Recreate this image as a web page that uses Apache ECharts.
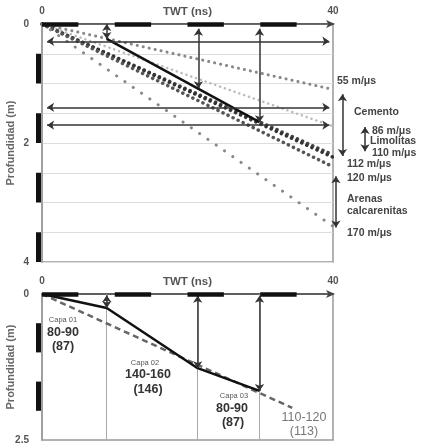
<!DOCTYPE html>
<html>
<head>
<meta charset="utf-8">
<script src="https://cdn.jsdelivr.net/npm/echarts@6/dist/echarts.min.js"></script>
<style>html,body{margin:0;padding:0;background:#fff;}#c{width:422px;height:448px;}</style>
</head>
<body>
<div id="c"></div>
<script>
// ---- data ----
const tMax = 40;
const velocities = [55, 86, 110, 112, 120, 170];          // m/us
const velEndDepth = [1.1, 1.72, 2.2, 2.24, 2.4, 3.4];      // depth (m) reached at 40 ns
const topLayerLine = [[8.9, 0.25], [29.9, 1.65]];
const topHArrowDepths = [0.29, 1.40, 1.70];
const topVArrows = [[8.9, 0.0, 0.25], [21.5, 0.08, 1.08], [29.9, 0.08, 1.65]];
const rightArrows = [[41.3, 1.18, 2.22], [44.4, 1.73, 2.14], [40.4, 2.56, 3.42]];
const bottomLayerLine = [[0, 0], [8.9, 0.24], [21.4, 1.27], [29.9, 1.66]];
const bottomDashed = [[0, 0], [34.4, 1.95]];
const bottomTimes = [8.9, 21.4, 29.9];
const bottomVArrows = [[8.9, 0.02, 0.24], [21.4, 0.03, 1.27], [29.9, 0.03, 1.66]];
const xBarSegs = [[0, 5], [10, 15], [20, 25], [30, 35]];
const yBarSegsTop = [[0.5, 1], [1.5, 2], [2.5, 3], [3.5, 4]];
const yBarSegsBottom = [[0.5, 1], [1.5, 2]];

const velStyles = [
  {color: '#888', width: 3, type: [0.1, 6]},
  {color: '#bbb', width: 2.5, type: [0.1, 5]},
  {color: '#444', width: 3.5, type: [0.1, 5.5]},
  {color: '#333', width: 3.5, type: [0.1, 5.5]},
  {color: '#555', width: 3.5, type: [0.1, 5.5]},
  {color: '#888', width: 3, type: [0.1, 10]}
];

const FONT = '"Liberation Sans", Arial, sans-serif';
const chart = echarts.init(document.getElementById('c'));

function xAxisCfg(gi) {
  return {
    gridIndex: gi, type: 'value', position: 'top', min: 0, max: tMax, interval: 40,
    axisLine: {show: true, symbol: ['none', 'arrow'], symbolSize: [6, 9], symbolOffset: [0, 2],
      lineStyle: {color: '#444', width: 1.5}},
    axisTick: {show: false},
    axisLabel: {fontSize: 10, fontWeight: 'bold', color: '#555', margin: 8, fontFamily: FONT},
    splitLine: {show: false},
    name: 'TWT (ns)', nameLocation: 'middle', nameGap: 6, nameMoveOverlap: false,
    nameTextStyle: {fontSize: 11.5, fontWeight: 'bold', color: '#555', fontFamily: FONT}
  };
}
function yAxisCfg(gi, max, interval, grid) {
  return {
    gridIndex: gi, type: 'value', inverse: true, min: 0, max: max, interval: interval,
    axisLine: {show: true, lineStyle: {color: '#999', width: 1.5}},
    axisTick: {show: false},
    axisLabel: {fontSize: 10, fontWeight: 'bold', color: '#555', margin: 13, fontFamily: FONT},
    splitLine: {show: grid, lineStyle: {color: '#ddd', width: 1}},
    minorTick: {show: false, splitNumber: 4},
    minorSplitLine: {show: grid, lineStyle: {color: '#ddd', width: 1}},
    name: 'Profundidad (m)', nameLocation: 'middle', nameGap: 26, nameRotate: 90, nameMoveOverlap: false,
    nameTextStyle: {fontSize: 11, fontWeight: 'bold', color: '#666', fontFamily: FONT}
  };
}

function linesSeries(gi, coordsList, style, symbol, size, z) {
  return {
    type: 'lines', coordinateSystem: 'cartesian2d', xAxisIndex: gi, yAxisIndex: gi,
    clip: false, silent: true, z: z || 3,
    symbol: symbol || ['none', 'none'], symbolSize: size || 7,
    lineStyle: Object.assign({opacity: 1, curveness: 0}, style),
    data: coordsList.map(c => ({coords: c}))
  };
}

const series = [];
// scale bars on axes
[0, 1].forEach(gi => {
  series.push(linesSeries(gi, xBarSegs.map(s => [[s[0], 0], [s[1], 0]]), {color: '#111', width: 4.5}, null, 0, 6));
});
series.push(linesSeries(0, yBarSegsTop.map(s => [[-0.5, s[0]], [-0.5, s[1]]]), {color: '#111', width: 5}, null, 0, 6));
series.push(linesSeries(1, yBarSegsBottom.map(s => [[-0.5, s[0]], [-0.5, s[1]]]), {color: '#111', width: 5}, null, 0, 6));

// velocity lines (top)
velocities.forEach((v, i) => {
  series.push({
    type: 'line', xAxisIndex: 0, yAxisIndex: 0, name: v + ' m/μs', showSymbol: false, silent: true,
    z: 2, lineStyle: Object.assign({cap: 'round'}, velStyles[i]),
    data: [[0, 0], [tMax, velEndDepth[i]]]
  });
});
// layer line (top)
series.push({type: 'line', xAxisIndex: 0, yAxisIndex: 0, showSymbol: false, silent: true, z: 4,
  lineStyle: {color: '#111', width: 2.5}, data: topLayerLine});
// horizontal arrows (top)
series.push(linesSeries(0, topHArrowDepths.map(d => [[0.7, d], [39.5, d]]), {color: '#333', width: 1.5}, ['arrow', 'arrow'], 7, 5));
// vertical arrows (top)
series.push(linesSeries(0, topVArrows.map(a => [[a[0], a[1]], [a[0], a[2]]]), {color: '#333', width: 1.5}, ['arrow', 'arrow'], 7, 5));
// right-side annotation arrows
series.push(linesSeries(0, rightArrows.map(a => [[a[0], a[1]], [a[0], a[2]]]), {color: '#333', width: 1.5}, ['arrow', 'arrow'], 7, 5));

// bottom chart
series.push(linesSeries(1, bottomTimes.map(t => [[t, 0], [t, 2.5]]), {color: '#aaa', width: 1}, null, 0, 1));
series.push({type: 'line', xAxisIndex: 1, yAxisIndex: 1, showSymbol: false, silent: true, z: 3,
  lineStyle: {color: '#666', width: 2.5, type: [6, 4]}, data: bottomDashed});
series.push({type: 'line', xAxisIndex: 1, yAxisIndex: 1, showSymbol: false, silent: true, z: 4,
  lineStyle: {color: '#111', width: 2.5}, data: bottomLayerLine});
series.push(linesSeries(1, bottomVArrows.map(a => [[a[0], a[1]], [a[0], a[2]]]), {color: '#333', width: 1.5}, ['arrow', 'arrow'], 7, 5));

function txt(x, y, s, size, color, weight, align) {
  return {type: 'text', x: x, y: y, silent: true, z: 10,
    style: {text: s, fontSize: size, fill: color || '#444', fontWeight: weight || 'bold',
      fontFamily: FONT, align: align || 'left', verticalAlign: 'middle'}};
}
const graphics = [
  txt(337, 81, '55 m/μs', 10.5),
  txt(354, 112, 'Cemento', 10.5),
  txt(372, 131, '86 m/μs', 10.5),
  txt(370, 141, 'Limolitas', 10.5),
  txt(372, 153, '110 m/μs', 10.5),
  txt(347, 164, '112 m/μs', 10.5),
  txt(347, 178, '120 m/μs', 10.5),
  txt(347, 199, 'Arenas', 10.5),
  txt(347, 211, 'calcarenitas', 10.5),
  txt(347, 233, '170 m/μs', 10.5),
  txt(63, 320, 'Capa 01', 7.5, '#555', 'normal', 'center'),
  txt(63, 333, '80-90', 12.5, '#333', 'bold', 'center'),
  txt(63, 347, '(87)', 12.5, '#333', 'bold', 'center'),
  txt(145, 363, 'Capa 02', 7.5, '#555', 'normal', 'center'),
  txt(148, 375, '140-160', 12.5, '#333', 'bold', 'center'),
  txt(148, 390, '(146)', 12.5, '#333', 'bold', 'center'),
  txt(234, 396, 'Capa 03', 7.5, '#555', 'normal', 'center'),
  txt(232, 409, '80-90', 12.5, '#333', 'bold', 'center'),
  txt(233, 423, '(87)', 12.5, '#333', 'bold', 'center'),
  txt(304, 418, '110-120', 12.5, '#777', 'normal', 'center'),
  txt(304, 432, '(113)', 12.5, '#777', 'normal', 'center')
];

chart.setOption({
  animation: false,
  backgroundColor: '#fff',
  grid: [
    {left: 42, top: 24, width: 291, height: 238, show: true, borderColor: '#999', borderWidth: 1.5,
      backgroundColor: 'transparent', containLabel: false, outerBoundsMode: 'none'},
    {left: 42, top: 294, width: 291, height: 146, show: true, borderColor: '#999', borderWidth: 1.5,
      backgroundColor: 'transparent', containLabel: false, outerBoundsMode: 'none'}
  ],
  xAxis: [xAxisCfg(0), xAxisCfg(1)],
  yAxis: [yAxisCfg(0, 4, 2, true), yAxisCfg(1, 2.5, 2.5, false)],
  series: series,
  graphic: graphics
});
</script>
</body>
</html>
